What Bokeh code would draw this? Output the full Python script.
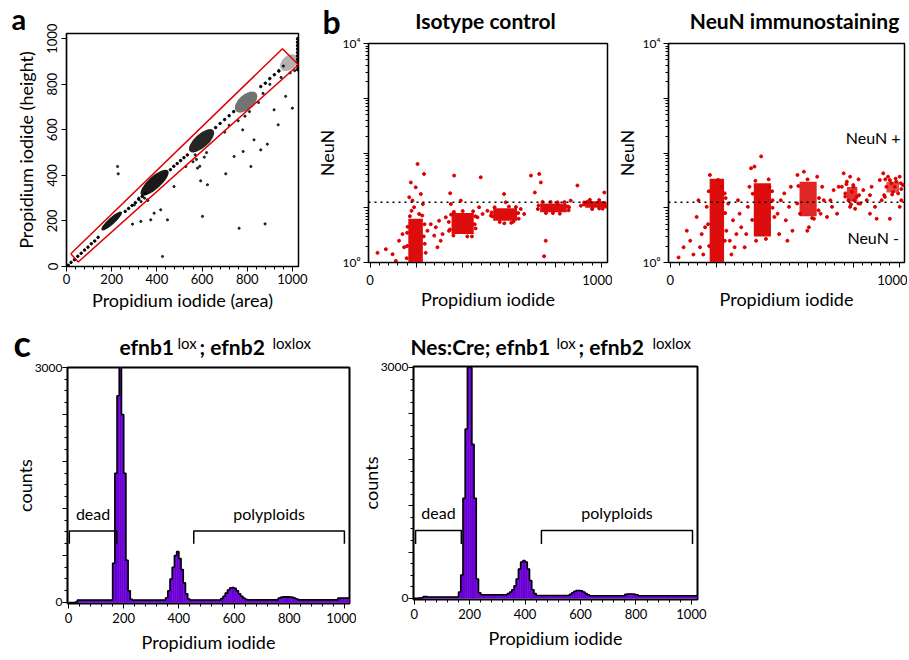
import math
from bokeh.plotting import figure
from bokeh.layouts import row, column
from bokeh.models import Range1d, FixedTicker, Label, Span
from bokeh.core.properties import value
from bokeh.embed import file_html
from bokeh.resources import INLINE

FONT = "Lato"
RED = "#dc0000"
PURPLE = "#6a00d4"

# ---------------- panel a : PI height vs area ----------------
A_CLUSTER_X = [200, 390, 598, 795, 985]
A_CLUSTER_Y = [200, 368, 552, 722, 895]
A_CLUSTER_LEN = [120, 160, 140, 120, 90]
A_CLUSTER_WID = [30, 55, 60, 65, 60]
A_CLUSTER_ALPHA = [0.9, 0.9, 0.85, 0.55, 0.3]
A_DIAG_X = [8, 20, 35, 50, 65, 80, 95, 110, 125, 140, 260, 275, 290, 305, 320, 335, 350,
            460, 475, 490, 505, 520, 535, 660, 680, 700, 720, 740, 860, 880, 900, 920, 940]
A_DIAG_Y = [5, 18, 30, 45, 58, 72, 85, 100, 112, 128, 242, 255, 268, 280, 295, 308, 320,
            425, 440, 452, 465, 478, 490, 610, 628, 645, 662, 680, 790, 805, 825, 842, 858]
A_PTS_X = [226, 229, 425, 602, 764, 879, 705, 889, 937, 1000, 830, 782, 594, 624, 580, 329, 373,
           447, 292, 358, 388, 417, 476, 528, 742, 816, 860, 919, 970, 560, 575, 610, 620, 590,
           570, 330, 345, 360, 300, 320, 700, 720, 760, 780, 790, 810, 850, 870, 900, 950, 990,
           1010, 960, 940]
A_PTS_Y = [439, 407, 44, 220, 168, 187, 407, 537, 622, 695, 556, 505, 376, 359, 432, 198, 205,
           205, 186, 293, 234, 249, 351, 439, 483, 439, 512, 688, 747, 460, 470, 480, 500, 440,
           490, 285, 300, 290, 270, 300, 590, 620, 640, 600, 660, 680, 720, 760, 800, 830, 850,
           860, 880, 860]
A_EDGE_X = [1024, 1024, 1024, 1024, 1024, 1024, 1024, 1024, 1024, 1024]
A_EDGE_Y = [865, 880, 895, 910, 925, 940, 955, 970, 985, 1000]
GATE_X = [19, 956, 1027, 52, 19]
GATE_Y = [56, 956, 886, 20, 56]

# ---------------- panel b : NeuN vs PI ----------------
ISO_CORE_L = [165, 352, 532, 735, 930]
ISO_CORE_R = [228, 448, 635, 850, 1018]
ISO_CORE_B = [1.0, 3.3, 5.8, 8.3, 10.0]
ISO_CORE_T = [6.3, 8.0, 9.8, 12.0, 13.2]
ISO_PTS_X = [205, 176, 233, 183, 169, 219, 190, 212, 179, 228, 197,
             32, 68, 97, 125, 140, 111, 147,
             248, 262, 284, 298, 313, 277, 327, 291, 305, 341,
             346, 363, 392, 349,
             464, 486, 507, 522, 478, 471,
             586, 579, 666, 651,
             695, 731, 738, 712, 759, 752, 810, 867, 896, 860,
             1012, 911, 939,
             345, 452, 455, 350, 440, 360, 528, 640, 560, 620, 600,
             725, 855, 780, 820, 760, 925, 1015, 960, 990, 160, 232, 235, 162, 240, 158,
             340, 456, 445, 362, 525, 642, 538, 630, 728, 858, 745, 840, 925, 1020, 950, 1005,
             236, 160, 172, 225, 400, 420, 580, 610, 790, 810, 960, 990]
ISO_PTS_Y = [63, 29, 41.5, 13.5, 15.5, 17.8, 10.2, 7.7, 8.8, 11.7, 23.6,
             1.5, 1.75, 1.42, 2.5, 3.3, 1.07, 1.9,
             3.8, 5.0, 4.4, 5.8, 3.3, 3.1, 6.7, 1.9, 2.5, 3.8,
             18.4, 38.7, 13.5, 11.7,
             6.7, 7.7, 8.8, 7.2, 36, 10.2,
             12.6, 17.8, 7.7, 9.5,
             38.7, 41.5, 29, 19, 2.5, 1.3, 11.7, 13.5, 25.5, 10.2,
             19, 10.9, 12.9,
             4.0, 5.0, 7.0, 7.5, 3.0, 3.1, 7.0, 8.0, 5.5, 5.6, 10.5,
             9.5, 10.5, 12.8, 7.8, 8.0, 11.5, 12.0, 9.6, 13.8, 2.0, 3.0, 5.0, 4.5, 1.5, 1.2,
             5.5, 4.2, 8.6, 8.4, 8.2, 6.3, 10.2, 10.3, 11.0, 9.0, 12.8, 12.7, 12.5, 10.5, 14.0, 9.6,
             2.2, 3.5, 7.0, 7.2, 8.7, 3.0, 5.2, 5.3, 8.0, 12.6, 9.5, 9.7]

NEU_CORE_L = [172, 365, 565, 772, 945]
NEU_CORE_R = [235, 440, 640, 818, 1000]
NEU_CORE_B = [1.0, 3.0, 7.0, 13.0, 19.0]
NEU_CORE_T = [34, 28, 30, 24, 30]
NEU_CORE_ALPHA = [0.95, 0.95, 0.85, 0.8, 0.7]
NEU_PTS_X = [36, 72, 87, 115, 130, 137, 152, 144, 101, 159, 123, 58,
             245, 260, 274, 289, 303, 310, 325, 339, 332, 267, 346, 353, 253, 296, 281,
             173, 209, 224, 238,
             397, 368, 433, 447, 455, 375, 418,
             469, 483, 505, 519, 534, 498, 527, 476, 512,
             556, 584, 642, 664, 671, 657, 628, 599, 606, 567,
             700, 714, 729, 707, 736, 685,
             758, 772, 786, 801, 815, 794, 830, 808, 779, 823, 765, 844, 786, 750, 804,
             859, 880, 895, 916, 873, 902, 873,
             931, 952, 967, 981, 996, 1010, 974, 945, 960, 1003, 988, 1017, 938, 960, 1003, 924,
             165, 240, 168, 242, 170, 238, 358, 447, 360, 445, 372, 430, 555, 650, 560, 648,
             600, 620, 765, 825, 770, 822, 790, 800, 935, 1010, 940, 1008, 970, 985]
NEU_PTS_Y = [1.24, 3.8, 2.5, 6.8, 1.9, 3.3, 4.4, 1.4, 1.4, 10.4, 13.7, 1.9,
             3.8, 2.5, 5.9, 3.3, 7.8, 4.4, 1.9, 10.4, 3.3, 1.4, 24.2, 52.6, 11.9, 13.7, 1.9,
             39.7, 32.2, 24.2, 18.3,
             86.6, 56.5, 24.2, 13.7, 6.8, 2.5, 2.7,
             7.8, 13.7, 5.9, 10.4, 3.8, 18.3, 24.2, 3.3, 2.5,
             39.7, 45.6, 37.0, 24.2, 13.7, 7.8, 6.3, 3.8, 4.4, 7.8,
             13.7, 21, 7.8, 10.4, 24.2, 6.8,
             42.5, 30, 37, 24.2, 15.8, 19.6, 11.9, 9.6, 13.7, 33, 18.3, 21, 10.4, 24.2, 13.7,
             13.7, 24.2, 10.4, 32, 17, 6.3, 7.8,
             42.5, 37, 28, 24.2, 18.3, 13.7, 19.6, 24.2, 32, 37, 30, 26, 15.8, 6.3, 10.4, 13.7,
             5.0, 8.0, 20.0, 15.0, 2.0, 2.5, 6.0, 10.0, 18.0, 20.0, 31.0, 33.0, 12.0, 15.0, 25.0, 9.0,
             33.0, 6.5, 16.0, 17.0, 27.0, 12.0, 11.5, 26.0, 17.0, 22.0, 33.0, 28.0, 17.5, 34.0]
NEUN_GATE = 12.6

# ---------------- panel c : PI histograms ----------------
BIN_WIDTH = 8
C1_COUNTS = [0, 0, 0, 5,
             30, 30, 30, 30, 30, 30, 30, 30, 30, 30, 30, 30, 30, 30, 30, 30,
             500, 1650, 2640, 3300, 2400, 1650, 540, 150, 40,
             30, 30, 30, 30, 30, 30, 30, 30, 30, 30, 30, 30, 30, 30, 30,
             60, 150, 300, 450, 600, 650, 560, 420, 250, 110, 45,
             32, 32, 32, 32, 32, 32, 32, 32, 32, 32, 32, 32, 32, 32,
             50, 80, 120, 160, 185, 190, 180, 150, 110, 80, 55, 40,
             33, 33, 33, 33, 33, 33, 33, 33, 33, 33, 33, 33, 33, 33,
             55, 65, 72, 72, 72, 70, 65, 55, 45,
             33, 33, 33, 33, 33, 33, 33, 33, 33, 33, 33, 33, 33, 33, 33, 33, 33, 33,
             55, 55, 55, 55, 55, 55]
C2_COUNTS = [0, 0, 3, 5,
             20, 20, 15, 15,
             15, 15, 15, 15, 15, 15, 15, 15, 15, 15, 15, 15,
             80, 300, 1300, 2200, 3000, 3000, 2000, 1300, 250, 70,
             45, 45, 45, 45, 45, 45, 45, 45, 45, 45, 45, 45,
             60, 80, 110, 160, 250, 380, 470, 490, 470, 380, 230, 110, 60,
             35, 35, 35, 35, 35, 35, 35, 35, 35, 35, 35, 35, 35, 35, 35,
             50, 70, 90, 100, 100, 95, 80, 60, 45,
             32, 32, 32, 32, 32, 32, 32, 32, 32, 32, 32, 32, 32, 32, 32, 32,
             50, 55, 55, 55, 50,
             45,
             32, 32, 32, 32, 32, 32, 32, 32, 32, 32, 32, 32, 32, 32, 32, 32, 32, 32, 32, 32,
             32, 32, 32, 32, 32, 32, 32]
# brackets: [x_start, x_end, y_top, y_tick_end]
C1_DEAD = [3, 175, 912, 750]
C1_POLY = [454, 1000, 912, 750]
C2_DEAD = [5, 170, 879, 706]
C2_POLY = [459, 1004, 879, 706]
X_TICKS = [0, 200, 400, 600, 800, 1000]
C_Y_TICKS = [0, 600, 1200, 1800, 2400, 3000]
LOG_TICKS = [1, 10, 100, 1000, 10000]


def make_fig(fw, fh, xr, yr, bl, br, bt, bb, y_log=False):
    kw = dict(frame_width=fw, frame_height=fh, x_range=Range1d(*xr), y_range=Range1d(*yr),
              output_backend="svg", toolbar_location=None, frame_align=False,
              min_border_left=bl, min_border_right=br, min_border_top=bt, min_border_bottom=bb)
    if y_log:
        kw["y_axis_type"] = "log"
    p = figure(**kw)
    p.border_fill_color = None
    p.background_fill_color = "white"
    p.xgrid.visible = False
    p.ygrid.visible = False
    p.outline_line_color = "black"
    p.outline_line_width = 1.5
    p.outline_line_alpha = 1.0
    for ax in p.axis:
        ax.axis_line_color = "black"
        ax.axis_line_width = 1.2
        ax.major_tick_in = 0
        ax.major_tick_out = 5
        ax.minor_tick_in = 0
        ax.minor_tick_out = 3
        ax.major_tick_line_color = "black"
        ax.minor_tick_line_color = "black"
        ax.major_label_text_font = FONT
        ax.major_label_text_color = "black"
        ax.major_label_text_font_size = "13px"
        ax.axis_label_text_font = FONT
        ax.axis_label_text_font_style = "normal"
        ax.axis_label_text_color = "black"
        ax.axis_label_text_font_size = "18px"
    return p


def strip(width, height, overlap):
    """A text-only band above a panel (ranges in pixels of the band); its lowest
    `overlap` pixels run under the panel that follows, so tall letters are not cut."""
    s = figure(frame_width=width, frame_height=height, x_range=Range1d(0, width),
               y_range=Range1d(0, height), x_axis_type=None, y_axis_type=None,
               output_backend="svg", toolbar_location=None, frame_align=False,
               min_border=0, min_border_left=0, min_border_right=0,
               min_border_top=0, min_border_bottom=0, margin=(0, 0, -overlap, 0))
    s.outline_line_color = None
    s.border_fill_color = None
    s.background_fill_color = None
    return s


def stext(s, x, y, text, size, bold=False, align="left"):
    # y is the wanted baseline; the rendered text sits about a third of its size lower
    s.text(x=[x], y=[y + 0.33 * size], text=[text], text_font=value(FONT),
           text_font_size=value(f"{size}px"),
           text_font_style="bold" if bold else "normal", text_color="black",
           text_align=align, text_baseline="alphabetic")


def txt(p, x, y, text, size, align="center", baseline="middle"):
    p.add_layout(Label(x=x, y=y, text=text, text_font=FONT, text_font_size=f"{size}px",
                       text_color="black", text_align=align, text_baseline=baseline))


def minor(step, stop):
    return [v for v in range(step, stop, step)]

# ----- panel a -----
tA = strip(312, 40, 18)
stext(tA, 11, 12, "a", 29, bold=True)
pa = make_fig(232, 233, (0, 1027), (0, 1023), 66, 14, 11, 52)
pa.xaxis.ticker = FixedTicker(ticks=X_TICKS, minor_ticks=minor(40, 1000))
pa.yaxis.ticker = FixedTicker(ticks=X_TICKS, minor_ticks=[])
pa.yaxis.major_label_orientation = "vertical"
pa.xaxis.axis_label = "Propidium iodide (area)"
pa.yaxis.axis_label = "Propidium iodide (height)"
pa.xaxis.major_label_standoff = 2
pa.xaxis.axis_label_standoff = 2
pa.yaxis.major_label_standoff = 4
pa.yaxis.axis_label_standoff = 8
pa.ellipse(x=A_CLUSTER_X, y=A_CLUSTER_Y, width=A_CLUSTER_LEN, height=A_CLUSTER_WID,
           angle=math.atan2(0.9, 1.0), fill_color="black", fill_alpha=A_CLUSTER_ALPHA, line_color=None)
pa.scatter(A_DIAG_X, A_DIAG_Y, size=2.5, color="black")
pa.scatter(A_PTS_X, A_PTS_Y, size=2.2, color="black", alpha=0.8)
pa.scatter(A_EDGE_X, A_EDGE_Y, size=3, color="black")
pa.line(GATE_X, GATE_Y, line_color="#e00000", line_width=1.5)

# ----- panel b -----
def neun_fig(fw, bl, br, xr):
    p = make_fig(fw, 219, xr, (1, 10000), bl, br, 10, 56, y_log=True)
    p.xaxis.ticker = FixedTicker(ticks=X_TICKS, minor_ticks=minor(40, 1000))
    p.xaxis.major_label_overrides = {200: "", 400: "", 600: "", 800: ""}
    p.xaxis.major_label_standoff = 7
    p.xaxis.axis_label = "Propidium iodide"
    p.xaxis.axis_label_standoff = 0
    p.yaxis.ticker = FixedTicker(ticks=LOG_TICKS,
                                 minor_ticks=[m * 10 ** d for d in range(4) for m in range(2, 10)])
    p.yaxis.major_label_overrides = {1: "10\u2070", 10: "", 100: "", 1000: "", 10000: "10\u2074"}
    p.yaxis.major_label_text_font_size = "12px"
    p.yaxis.major_label_standoff = 3
    p.yaxis.axis_label = "NeuN"
    p.yaxis.axis_label_standoff = 2
    p.add_layout(Span(location=NEUN_GATE, dimension="width", line_color="black",
                      line_dash="dotted", line_width=1.5))
    return p

tB = strip(296, 45, 12)
stext(tB, 10, 13, "b", 32, bold=True)
stext(tB, 173, 18, "Isotype control", 21, bold=True, align="center")
pb = neun_fig(239, 52, 5, (-7, 1026))
pb.quad(left=ISO_CORE_L, right=ISO_CORE_R, bottom=ISO_CORE_B, top=ISO_CORE_T,
        fill_color=RED, fill_alpha=0.95, line_color=None)
pb.scatter(ISO_PTS_X, ISO_PTS_Y, size=3, color=RED)

tC = strip(293, 45, 12)
stext(tC, 182, 18, "NeuN immunostaining", 21, bold=True, align="center")
pc = neun_fig(236, 54, 3, (-8, 1024))
pc.quad(left=NEU_CORE_L, right=NEU_CORE_R, bottom=NEU_CORE_B, top=NEU_CORE_T,
        fill_color=RED, fill_alpha=NEU_CORE_ALPHA, line_color=None)
pc.scatter(NEU_PTS_X, NEU_PTS_Y, size=3, color=RED)
txt(pc, 887, 190, "NeuN +", 16)
txt(pc, 887, 2.9, "NeuN -", 16)

# ----- panel c -----
def hist_fig(fw, fh, bl, br, bt, bb, xr, yr, counts, dead, poly, text_y):
    p = make_fig(fw, fh, xr, yr, bl, br, bt, bb)
    p.outline_line_width = 2
    p.xaxis.ticker = FixedTicker(ticks=X_TICKS, minor_ticks=minor(40, 1000))
    p.yaxis.ticker = FixedTicker(ticks=C_Y_TICKS, minor_ticks=minor(150, 3000))
    p.yaxis.major_label_overrides = {600: "", 1200: "", 1800: "", 2400: ""}
    p.yaxis.major_label_text_font_size = "12px"
    p.yaxis.major_label_standoff = 0
    p.xaxis.major_label_standoff = 4
    p.xaxis.axis_label = "Propidium iodide"
    p.xaxis.axis_label_standoff = 5
    p.yaxis.axis_label = "counts"
    p.yaxis.axis_label_standoff = -4
    lefts = [i * BIN_WIDTH for i in range(len(counts))]
    rights = [l + BIN_WIDTH for l in lefts]
    p.quad(left=lefts, right=rights, bottom=0, top=counts, fill_color=PURPLE,
           line_color=PURPLE, line_width=0.5)
    p.step(lefts + [rights[-1]], counts + [counts[-1]], mode="after", line_color="black", line_width=1.6)
    for br_ in (dead, poly):
        x0, x1, yt, yb = br_
        p.line([x0, x0, x1, x1], [yb, yt, yt, yb], line_color="black", line_width=1.5)
    txt(p, (dead[0] + dead[1]) / 2, text_y, "dead", 16)
    txt(p, (poly[0] + poly[1]) / 2, text_y, "polyploids", 16)
    return p

tC1 = strip(356, 48, 8)
stext(tC1, 13, 12, "c", 36, bold=True)
stext(tC1, 119, 13, "efnb1", 21, bold=True)
stext(tC1, 177, 19, "lox", 15)
stext(tC1, 199, 13, "; efnb2", 21, bold=True)
stext(tC1, 272, 19, "loxlox", 15)
pc1 = hist_fig(282, 236, 67, 7, 9, 50, (-3.6, 1018.5), (-13, 3000), C1_COUNTS, C1_DEAD, C1_POLY, 1133)

tC2 = strip(345, 48, 8)
stext(tC2, 54, 13, "Nes:Cre; efnb1", 21, bold=True)
stext(tC2, 200, 19, "lox", 15)
stext(tC2, 222, 13, "; efnb2", 21, bold=True)
stext(tC2, 296, 19, "loxlox", 15)
pc2 = hist_fig(284, 233, 51, 14, 8, 53, (-2.5, 1022), (-17, 3013), C2_COUNTS, C2_DEAD, C2_POLY, 1108)

layout = column(
    row(column(tA, pa), column(tB, pb), column(tC, pc)),
    row(column(tC1, pc1), column(tC2, pc2)),
)
open("out.html", "w").write(file_html(layout, INLINE))
